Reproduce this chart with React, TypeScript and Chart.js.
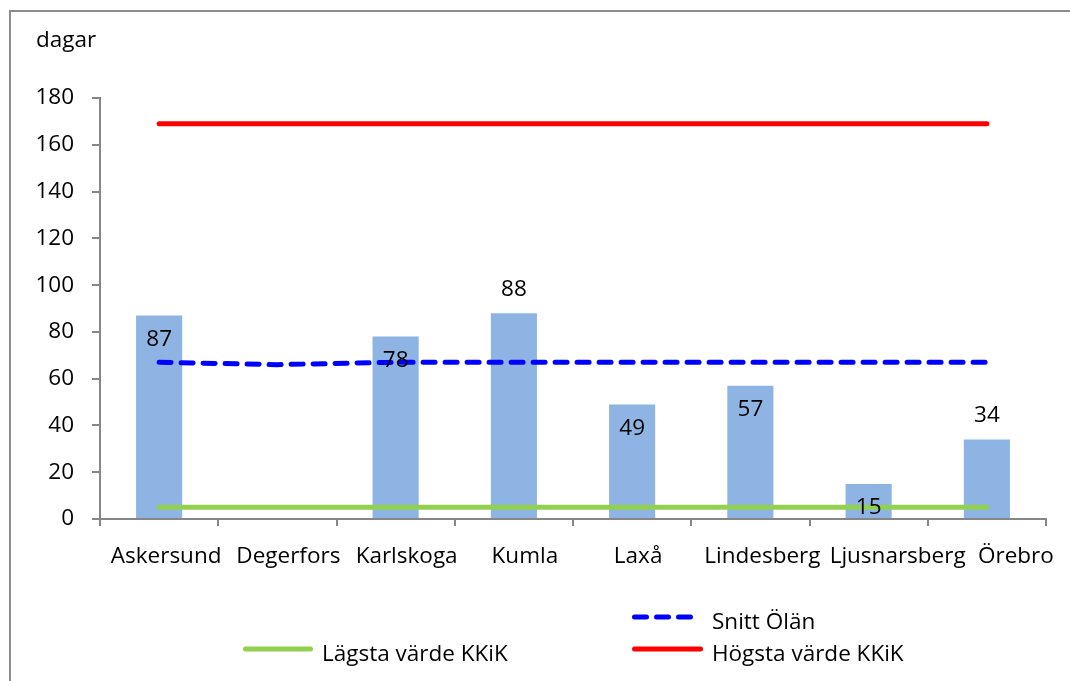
import React, { useEffect, useRef } from "react";
import { Chart, registerables } from "chart.js";

Chart.register(...registerables);

// ---------- data ----------
const categories = ["Askersund", "Degerfors", "Karlskoga", "Kumla", "Laxå", "Lindesberg", "Ljusnarsberg", "Örebro"];
const barValues: (number | null)[] = [87, null, 78, 88, 49, 57, 15, 34];
const snittOlan = [67, 66, 67, 67, 67, 67, 67, 67];
const lagstaKKiK = [5, 5, 5, 5, 5, 5, 5, 5];
const hogstaKKiK = [169, 169, 169, 169, 169, 169, 169, 169];
const yMin = 0;
const yMax = 180;
const yStep = 20;
const unitLabel = "dagar";
const seriesNames = { snitt: "Snitt Ölän", lagsta: "Lägsta värde KKiK", hogsta: "Högsta värde KKiK", bars: "Kommun" };

// ---------- layout / style (not data) ----------
const labelPlacement = ["in", "in", "in", "out", "in", "in", "in", "out"];
const xLabelShift = [7, 11, 11, 11, 6, 12, 29, 29];
const FONT = "'Open Sans', sans-serif";
const FONT_SIZE = 22.5;
const AXIS_GRAY = "#868686";

const decorPlugin = {
  id: "decor",
  beforeDraw(chart: any) {
    const ctx = chart.ctx;
    ctx.save();
    ctx.fillStyle = "#ffffff";
    ctx.fillRect(0, 0, chart.width, chart.height);
    ctx.strokeStyle = "#8c8c8c";
    ctx.lineWidth = 2;
    ctx.strokeRect(10, 11, 3000, 3000);
    ctx.restore();
  },
  afterDraw(chart: any) {
    const ctx = chart.ctx;
    const xScale = chart.scales.x;
    const barMeta = chart.getDatasetMeta(3);
    ctx.save();
    ctx.font = `${FONT_SIZE}px ${FONT}`;
    ctx.fillStyle = "#000000";

    // value labels
    ctx.textAlign = "center";
    ctx.textBaseline = "middle";
    barValues.forEach((v, i) => {
      if (v === null) return;
      const el = barMeta.data[i];
      const dy = labelPlacement[i] === "in" ? 24 : -24;
      ctx.fillText(String(v), el.x, el.y + dy);
    });

    // x labels
    ctx.textBaseline = "alphabetic";
    categories.forEach((c, i) => {
      const x = xScale.getPixelForValue(i) + xLabelShift[i];
      ctx.fillText(c, x, 563);
    });

    // unit label
    ctx.textAlign = "left";
    ctx.fillText(unitLabel, 36, 47);

    // legend
    ctx.lineWidth = 5;
    ctx.lineCap = "round";
    // Snitt
    ctx.strokeStyle = "#0000ff";
    ctx.setLineDash([12, 10]);
    ctx.beginPath();
    ctx.moveTo(634.5, 617);
    ctx.lineTo(695, 617);
    ctx.stroke();
    ctx.setLineDash([]);
    ctx.fillText(seriesNames.snitt, 712, 629);
    // Lägsta
    ctx.strokeStyle = "#92d050";
    ctx.beginPath();
    ctx.moveTo(245.5, 649);
    ctx.lineTo(310.5, 649);
    ctx.stroke();
    ctx.fillText(seriesNames.lagsta, 322, 661);
    // Högsta
    ctx.strokeStyle = "#ff0000";
    ctx.beginPath();
    ctx.moveTo(634.5, 649);
    ctx.lineTo(700.5, 649);
    ctx.stroke();
    ctx.fillText(seriesNames.hogsta, 712, 661);
    ctx.restore();
  },
};

export default function App() {
  const ref = useRef<HTMLCanvasElement | null>(null);
  useEffect(() => {
    if (!ref.current) return;
    const lineCommon = {
      type: "line" as const,
      pointRadius: 0,
      pointHoverRadius: 0,
      borderWidth: 5,
      borderCapStyle: "round" as const,
      borderJoinStyle: "round" as const,
      tension: 0,
      fill: false,
      order: 1,
    };
    const chart = new Chart(ref.current, {
      type: "bar",
      data: {
        labels: categories,
        datasets: [
          { ...lineCommon, label: seriesNames.snitt, data: snittOlan, borderColor: "#0000ff", backgroundColor: "#0000ff", borderDash: [12, 10] },
          { ...lineCommon, label: seriesNames.lagsta, data: lagstaKKiK, borderColor: "#92d050", backgroundColor: "#92d050" },
          { ...lineCommon, label: seriesNames.hogsta, data: hogstaKKiK, borderColor: "#ff0000", backgroundColor: "#ff0000" },
          {
            type: "bar",
            label: seriesNames.bars,
            data: barValues,
            backgroundColor: "#8eb4e3",
            borderWidth: 0,
            categoryPercentage: 1,
            barPercentage: 0.39,
            order: 10,
          },
        ],
      } as any,
      options: {
        responsive: false,
        animation: false,
        layout: { padding: { left: 0, top: 98, right: 24, bottom: 0 } },
        plugins: { legend: { display: false }, tooltip: { enabled: false }, title: { display: false } },
        scales: {
          x: {
            type: "category",
            offset: true,
            grid: { display: true, offset: true, drawOnChartArea: false, drawTicks: true, tickLength: 7, color: AXIS_GRAY, lineWidth: 2 },
            border: { display: true, color: AXIS_GRAY, width: 2 },
            ticks: { display: false },
            afterFit: (s: any) => { s.height = 162; },
          },
          y: {
            min: yMin,
            max: yMax,
            grid: { display: true, drawOnChartArea: false, drawTicks: true, tickLength: 8, color: AXIS_GRAY, lineWidth: 2 },
            border: { display: true, color: AXIS_GRAY, width: 2 },
            ticks: { stepSize: yStep, color: "#000000", padding: 18, font: { family: FONT, size: FONT_SIZE } },
            afterFit: (s: any) => { s.width = 100; },
          },
        },
      } as any,
      plugins: [decorPlugin],
    });
    return () => chart.destroy();
  }, []);
  return (
    <div style={{ position: "fixed", left: 0, top: 0, width: 1070, height: 681, background: "#fff" }}>
      <canvas ref={ref} width={1070} height={681} style={{ display: "block", width: 1070, height: 681 }} />
    </div>
  );
}
